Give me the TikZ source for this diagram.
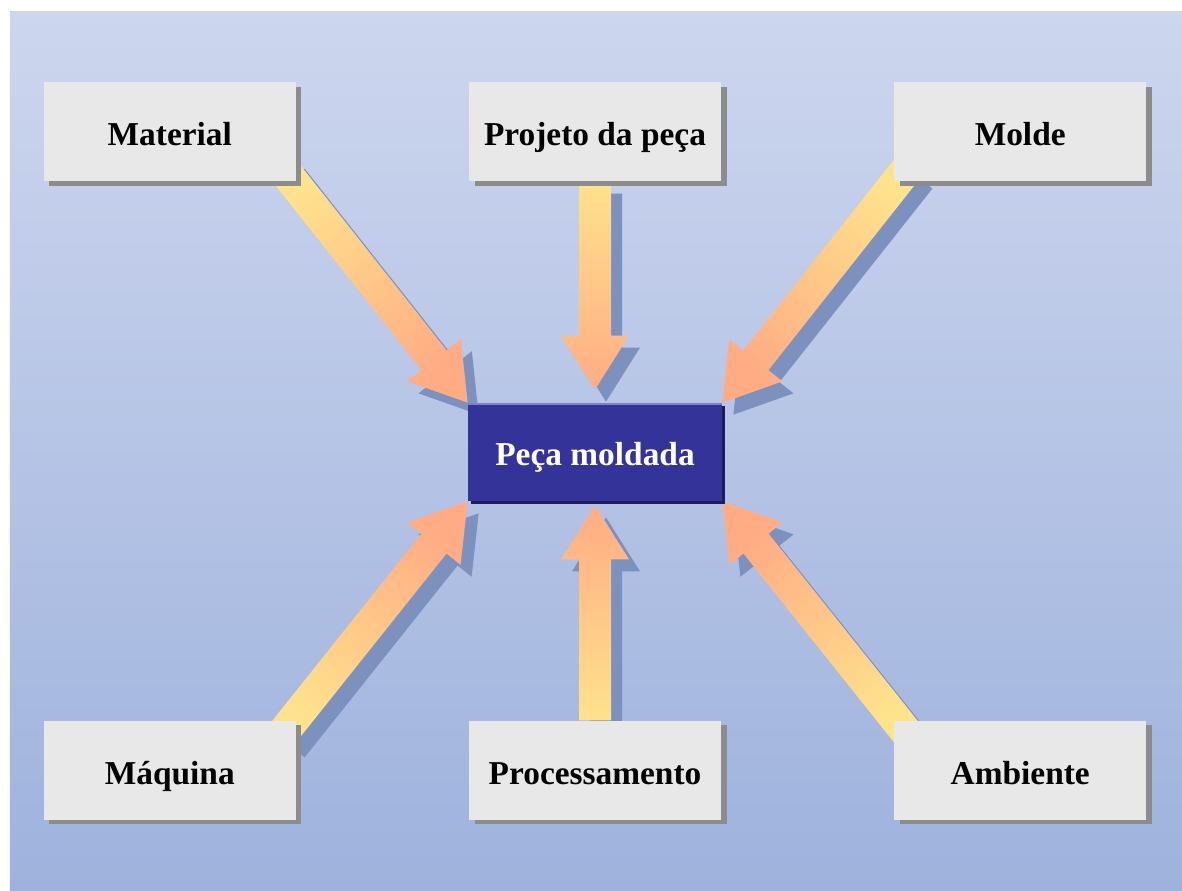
\documentclass[tikz,border=0pt]{standalone}
\usepackage{fontspec}
\setmainfont{Liberation Serif}
\usetikzlibrary{positioning,calc,shadows}

\definecolor{bgtop}{RGB}{205,214,238}
\definecolor{bgbottom}{RGB}{158,178,221}
\definecolor{boxfill}{RGB}{232,232,232}
\definecolor{boxshade}{RGB}{140,140,140}
\definecolor{pecafill}{RGB}{51,51,153}
\definecolor{pecashade}{RGB}{28,28,92}
\definecolor{pecaedge}{RGB}{128,128,196}
\definecolor{arrtail}{RGB}{255,226,140}
\definecolor{arrhead}{RGB}{255,172,132}
\definecolor{arrshade}{RGB}{125,145,190}

\pgfdeclarelayer{backdrop}
\pgfdeclarelayer{flow}
\pgfsetlayers{backdrop,flow,main}

\tikzset{
  factor/.style={rectangle,fill=boxfill,minimum width=5.04cm,minimum height=1.98cm,
    inner sep=0pt,text height=18pt,text depth=2pt,font=\fontsize{19}{23}\selectfont\bfseries,
    drop shadow={shadow xshift=0.11cm,shadow yshift=-0.09cm,fill=boxshade,opacity=1}},
  result/.style={rectangle,fill=pecafill,text=white,minimum width=5.08cm,minimum height=1.96cm,
    inner sep=0pt,text height=17pt,text depth=2pt,font=\fontsize{19}{23}\selectfont\bfseries,
    drop shadow={shadow xshift=0.06cm,shadow yshift=-0.06cm,fill=pecashade,opacity=1}},
  flowbody/.style={top color=arrhead,bottom color=arrtail},
  flowshade/.style={fill=arrshade}
}

\newcommand{\flowpath}{(0,0) -- (-1.08cm,0.68cm) -- (-1.08cm,0.32cm) -- (-\flowlen pt,0.32cm)
  -- (-\flowlen pt,-0.32cm) -- (-1.08cm,-0.32cm) -- (-1.08cm,-0.68cm) -- cycle}
\newcommand{\inflow}[2]{%
  \path let \p1=(#1), \p2=(#2),
        \n1={atan2(\y2-\y1,\x2-\x1)}, \n2={veclen(\x2-\x1,\y2-\y1)} in
    \pgfextra{\pgfmathparse{\n1}\xdef\flowang{\pgfmathresult}%
              \pgfmathparse{\n2}\xdef\flowlen{\pgfmathresult}};
  \pgfmathsetmacro{\flowshang}{\flowang-90}
  \begin{scope}[shift={(#2)},shift={(0.22,-0.24)},rotate=\flowang]
    \fill[flowshade] \flowpath;
  \end{scope}
  \begin{scope}[shift={(#2)},rotate=\flowang]
    \shade[flowbody,shading angle=\flowshang] \flowpath;
  \end{scope}}

\begin{document}
\begin{tikzpicture}
  \useasboundingbox (0,0) rectangle (23.64,17.8);
  \node[result] (peca) at (11.9,8.76) {Peça moldada};
  \node[factor] (proj) [above=4.42cm of peca] {Projeto da peça};
  \node[factor] (mat)  [left=3.45cm of proj] {Material};
  \node[factor] (mold) [right=3.45cm of proj] {Molde};
  \node[factor] (proc) [below=4.38cm of peca] {Processamento};
  \node[factor] (maq)  [left=3.45cm of proc] {Máquina};
  \node[factor] (amb)  [right=3.45cm of proc] {Ambiente};
  \draw[pecaedge,line width=1.6pt] ([yshift=-0.8pt]peca.north west) -- ([yshift=-0.8pt]peca.north east);

  \coordinate (mattail)  at ($(mat.south east)+(-0.3,0.3)$);
  \coordinate (moldtail) at ($(mold.south west)+(0.3,0.3)$);
  \coordinate (maqtail)  at ($(maq.north east)+(-0.3,-0.3)$);
  \coordinate (ambtail)  at ($(amb.north west)+(0.3,-0.3)$);
  \coordinate (projtip)  at ($(peca.north)+(0,0.26)$);
  \coordinate (proctip)  at ($(peca.south)+(0,-0.08)$);

  \begin{pgfonlayer}{backdrop}
    \shade[top color=bgtop,bottom color=bgbottom] (0.2,0) rectangle (23.64,17.56);
  \end{pgfonlayer}
  \begin{pgfonlayer}{flow}
    \inflow{mattail}{peca.north west}
    \inflow{proj.south}{projtip}
    \inflow{moldtail}{peca.north east}
    \inflow{maqtail}{peca.south west}
    \inflow{proc.north}{proctip}
    \inflow{ambtail}{peca.south east}
  \end{pgfonlayer}
\end{tikzpicture}
\end{document}
